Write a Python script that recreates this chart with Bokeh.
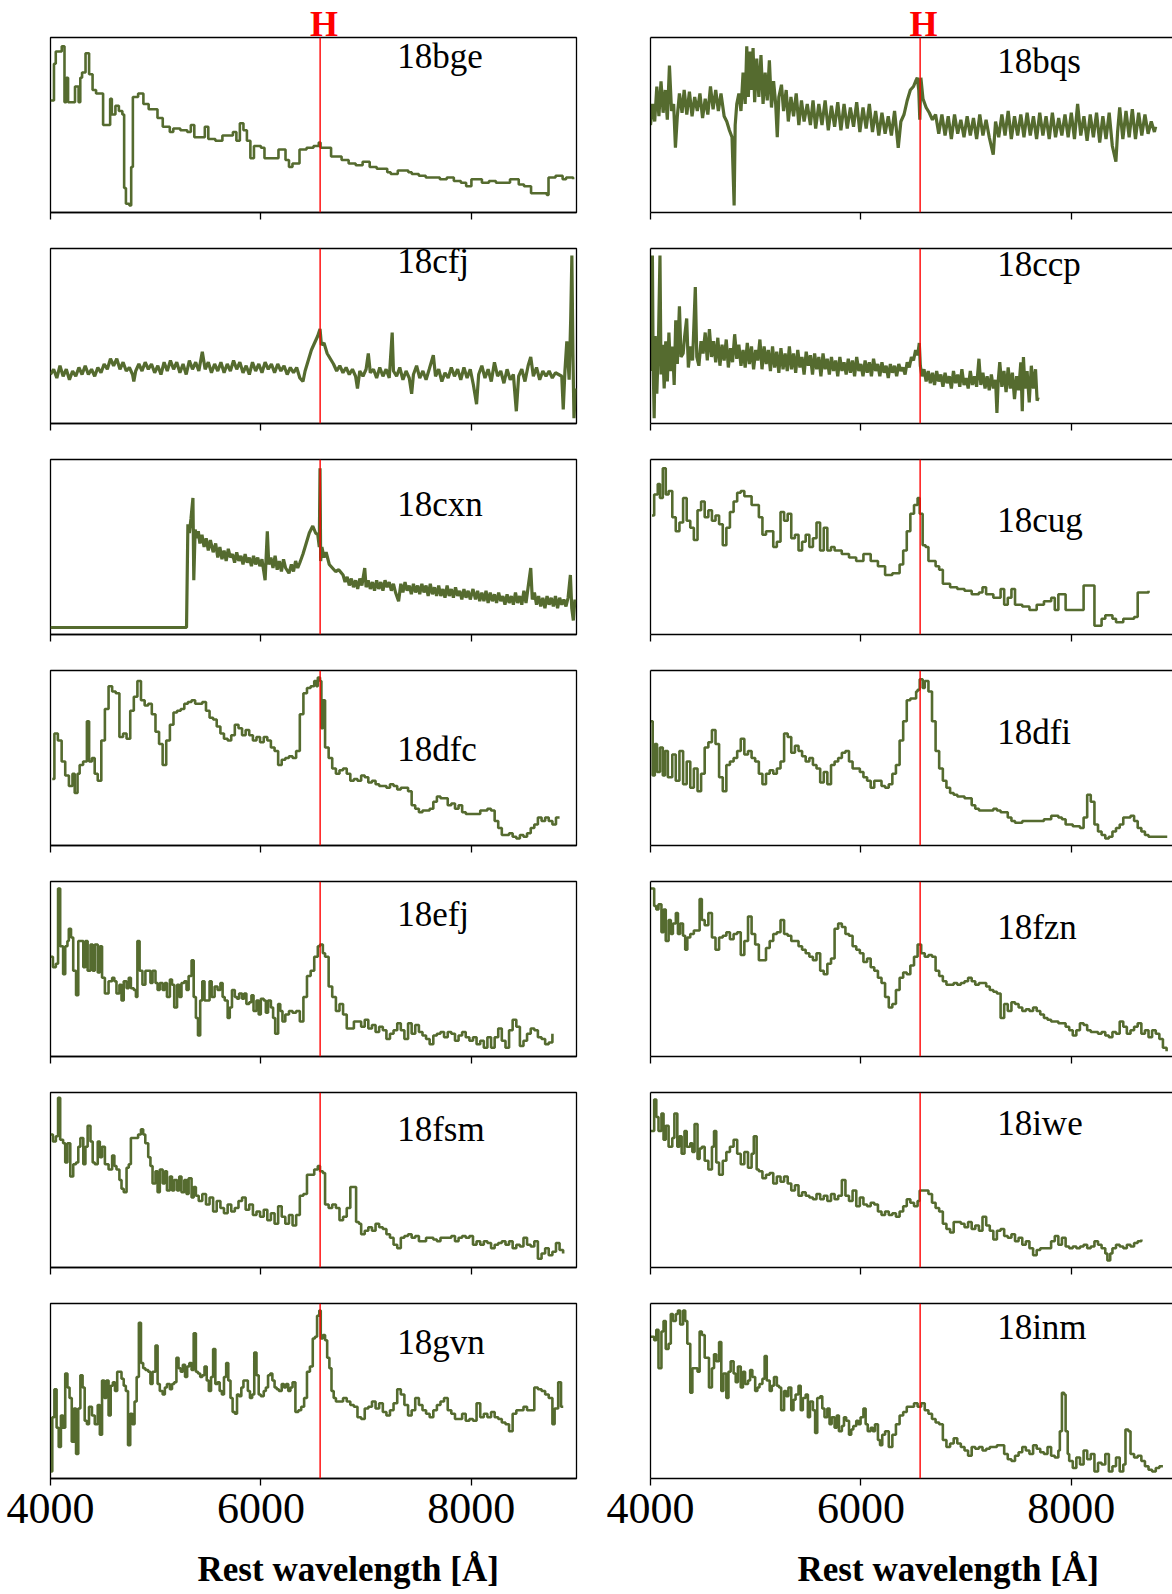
from bokeh.plotting import figure
from bokeh.layouts import column, row
from bokeh.models import Span, Label, Range1d, FixedTicker, LinearAxis
from bokeh.embed import file_html
from bokeh.resources import INLINE

# Spectra: (rest wavelength [A], normalised flux in % of panel height)
sn18bge = [(4000,64),(4033,85),(4050,92),(4107,95),(4133,63),(4150,77),(4167,63),(4217,63),(4233,72),(4267,63),
           (4283,77),(4300,80),(4333,91),(4367,79),(4400,70),(4433,68),(4483,68),(4500,50),(4533,50),(4567,65),
           (4583,56),(4617,61),(4650,58),(4683,56),(4700,14),(4717,5),(4750,4),(4767,26),(4783,66),(4833,68),
           (4867,68),(4883,62),(4933,59),(4984,59),(5017,54),(5067,49),(5134,46),(5167,48),(5234,47),(5300,46),
           (5334,50),(5367,43),(5467,49),(5500,42),(5567,41),(5634,44),(5734,46),(5767,41),(5800,51),(5834,47),
           (5867,41),(5900,31),(5934,38),(6000,37),(6034,31),(6100,31),(6167,36),(6234,30),(6267,26),(6300,28),
           (6367,36),(6434,37),(6500,38),(6550,40),(6567,37),(6667,32),(6767,30),(6834,28),(6901,27),(6967,29),
           (7034,26),(7101,25),(7201,23),(7234,22),(7301,24),(7401,23),(7434,22),(7501,21),(7567,20),(7701,19),
           (7767,20),(7834,18),(7901,17),(7951,15),(8001,19),(8101,17),(8168,18),(8234,17),(8368,19),(8418,19),
           (8451,16),(8501,15),(8568,11),(8718,10),(8734,20),(8801,21),(8868,19),(8901,20),(8968,19)]

sn18bqs = [(4000,50),(4020,62),(4040,52),(4060,72),(4080,55),(4100,75),(4120,57),(4140,70),(4160,53),(4180,84),
           (4200,58),(4220,62),(4237,37),(4255,55),(4275,68),(4300,57),(4320,70),(4345,56),(4370,69),(4395,55),
           (4420,66),(4445,58),(4470,68),(4495,54),(4520,65),(4545,56),(4570,72),(4595,59),(4620,70),(4645,58),
           (4670,68),(4700,55),(4725,52),(4750,47),(4775,43),(4795,4),(4805,50),(4820,62),(4840,68),(4860,58),
           (4880,80),(4900,62),(4915,95),(4930,66),(4945,92),(4960,70),(4975,94),(4990,63),(5010,88),(5030,66),
           (5050,90),(5070,62),(5090,80),(5110,64),(5130,87),(5150,60),(5170,75),(5190,62),(5205,43),(5220,66),
           (5245,73),(5265,58),(5290,70),(5310,52),(5335,66),(5360,55),(5385,68),(5410,50),(5435,64),(5460,52),
           (5490,62),(5520,50),(5545,64),(5570,48),(5600,62),(5630,50),(5660,64),(5690,47),(5720,61),(5750,49),
           (5780,63),(5810,47),(5840,62),(5870,48),(5900,60),(5930,49),(5960,63),(5990,46),(6020,60),(6050,48),
           (6080,62),(6110,46),(6140,58),(6170,44),(6200,57),(6230,45),(6260,55),(6290,44),(6320,58),(6355,37),
           (6380,52),(6410,56),(6440,64),(6470,70),(6500,72),(6520,75),(6536,77),(6550,70),(6560,53),(6570,77),
           (6590,65),(6620,60),(6650,57),(6680,53),(6710,56),(6740,45),(6770,56),(6800,44),(6830,55),(6860,42),
           (6890,56),(6920,45),(6950,53),(6980,43),(7010,55),(7040,44),(7070,54),(7100,42),(7130,56),(7160,44),
           (7190,53),(7220,43),(7258,33),(7280,52),(7310,43),(7340,56),(7370,44),(7400,58),(7430,42),(7460,55),
           (7490,44),(7520,56),(7550,43),(7580,57),(7610,44),(7640,55),(7670,42),(7700,57),(7730,44),(7760,55),
           (7790,42),(7820,57),(7850,43),(7880,54),(7910,44),(7940,56),(7970,43),(8000,57),(8030,42),(8060,62),
           (8090,44),(8120,55),(8150,41),(8180,56),(8210,43),(8240,57),(8270,40),(8300,55),(8330,42),(8360,57),
           (8390,38),(8424,29),(8440,46),(8460,60),(8490,42),(8520,58),(8550,43),(8580,59),(8610,42),(8640,57),
           (8670,44),(8700,56),(8730,45),(8760,52),(8790,46),(8802,49)]

sn18cfj = [(4000,28),(4030,31),(4060,26),(4090,33),(4120,27),(4150,31),(4180,25),(4210,30),(4240,27),(4270,32),
           (4300,28),(4330,33),(4360,28),(4390,31),(4420,27),(4450,32),(4480,29),(4510,34),(4540,31),(4570,37),
           (4600,33),(4630,37),(4660,31),(4690,35),(4720,30),(4750,32),(4780,28),(4792,24),(4810,30),(4840,34),
           (4870,30),(4900,35),(4930,31),(4960,34),(4990,29),(5020,33),(5050,28),(5080,35),(5110,30),(5140,36),
           (5170,31),(5200,35),(5230,29),(5260,34),(5290,28),(5320,36),(5350,31),(5380,35),(5410,30),(5443,41),
           (5470,31),(5500,35),(5530,29),(5560,34),(5590,30),(5620,35),(5650,29),(5680,34),(5710,30),(5740,36),
           (5770,31),(5800,35),(5830,29),(5860,33),(5890,28),(5920,35),(5950,30),(5980,34),(6010,29),(6040,35),
           (6070,31),(6100,34),(6130,29),(6160,34),(6190,30),(6220,33),(6250,28),(6280,32),(6310,29),(6340,32),
           (6370,26),(6400,24),(6420,30),(6450,36),(6480,42),(6510,46),(6540,50),(6562,54),(6575,45),(6600,46),
           (6630,40),(6660,37),(6690,34),(6720,30),(6750,33),(6780,29),(6810,32),(6840,28),(6870,31),(6900,27),
           (6918,20),(6940,30),(6970,27),(7000,31),(7021,40),(7040,29),(7070,31),(7100,26),(7130,32),(7160,27),
           (7190,31),(7220,26),(7248,52),(7260,30),(7290,27),(7320,32),(7350,25),(7380,30),(7410,26),(7433,17),
           (7450,28),(7480,33),(7510,26),(7540,30),(7570,25),(7600,31),(7639,39),(7660,27),(7690,31),(7720,24),
           (7750,29),(7780,26),(7810,32),(7840,27),(7870,31),(7900,25),(7930,32),(7960,26),(7990,31),(8020,22),
           (8050,11),(8070,28),(8100,33),(8130,26),(8160,31),(8190,24),(8220,35),(8250,27),(8280,30),(8310,23),
           (8340,31),(8370,25),(8400,28),(8428,7),(8450,27),(8480,31),(8510,24),(8540,33),(8565,38),(8590,27),
           (8620,32),(8650,25),(8680,30),(8710,27),(8740,30),(8770,26),(8800,29),(8830,28),(8860,27),(8874,8),
           (8890,30),(8908,47),(8930,25),(8945,60),(8956,96),(8966,40),(8976,3),(8990,20)]

sn18ccp = [(4000,53),(4010,30),(4018,96),(4025,35),(4035,3),(4045,50),(4060,17),(4075,45),(4090,96),(4100,28),
           (4115,45),(4130,20),(4145,47),(4160,24),(4175,52),(4190,30),(4210,44),(4225,22),(4240,59),(4255,34),
           (4275,67),(4290,38),(4310,40),(4325,50),(4344,60),(4360,32),(4380,44),(4400,36),(4426,78),(4440,38),
           (4460,33),(4480,47),(4500,40),(4520,52),(4540,36),(4560,54),(4580,38),(4600,47),(4620,35),(4640,49),
           (4660,33),(4680,45),(4700,36),(4720,48),(4740,32),(4760,43),(4780,35),(4800,51),(4820,37),(4840,45),
           (4860,33),(4880,42),(4900,32),(4920,46),(4940,34),(4960,44),(4980,31),(5000,42),(5020,36),(5040,48),
           (5060,31),(5080,44),(5100,34),(5120,42),(5140,30),(5160,44),(5180,32),(5200,41),(5220,29),(5240,43),
           (5260,31),(5280,40),(5300,30),(5320,44),(5340,31),(5360,40),(5380,29),(5400,42),(5420,32),(5440,38),
           (5460,28),(5480,41),(5500,33),(5520,39),(5540,28),(5560,40),(5580,31),(5600,38),(5620,27),(5640,40),
           (5660,31),(5680,37),(5700,28),(5720,38),(5740,30),(5760,36),(5780,27),(5800,38),(5820,30),(5840,35),
           (5860,28),(5880,37),(5900,29),(5920,36),(5940,27),(5960,38),(5980,30),(6000,34),(6020,27),(6040,36),
           (6060,29),(6080,35),(6100,27),(6120,37),(6140,30),(6160,34),(6180,27),(6200,35),(6220,29),(6240,33),
           (6260,26),(6280,34),(6300,29),(6320,33),(6340,27),(6360,34),(6380,30),(6400,32),(6420,28),(6440,35),
           (6460,32),(6480,38),(6500,36),(6520,42),(6540,39),(6555,46),(6565,33),(6580,27),(6600,31),(6620,24),
           (6640,30),(6660,23),(6680,29),(6700,22),(6720,30),(6740,24),(6760,28),(6780,21),(6800,29),(6820,23),
           (6840,27),(6860,20),(6880,30),(6900,23),(6920,28),(6940,21),(6960,31),(6980,22),(7000,26),(7020,20),
           (7040,30),(7060,22),(7080,27),(7100,21),(7122,37),(7140,22),(7160,29),(7180,20),(7200,27),(7220,19),
           (7240,28),(7260,20),(7280,25),(7293,6),(7305,24),(7320,35),(7340,21),(7360,30),(7380,18),(7400,32),
           (7420,20),(7440,29),(7460,14),(7480,27),(7500,19),(7520,35),(7534,7),(7545,38),(7560,20),(7580,30),
           (7600,12),(7620,33),(7640,20),(7660,31),(7675,13),(7685,15)]

sn18cxn = [(4000,4),(5293,4),(5306,63),(5320,58),(5335,66),(5354,78),(5362,31),(5375,60),(5390,55),(5405,59),
           (5420,52),(5440,57),(5460,50),(5480,55),(5500,48),(5520,54),(5546,47),(5570,52),(5590,44),(5610,50),
           (5630,43),(5650,48),(5670,42),(5690,49),(5710,44),(5730,46),(5750,41),(5770,47),(5790,42),(5810,45),
           (5830,40),(5850,46),(5870,41),(5890,44),(5910,39),(5930,45),(5950,40),(5970,44),(5990,39),(6010,43),
           (6040,31),(6061,59),(6075,40),(6095,44),(6115,38),(6135,45),(6155,37),(6175,42),(6195,36),(6215,43),
           (6235,38),(6267,35),(6290,40),(6310,36),(6330,42),(6350,38),(6370,41),(6400,46),(6430,52),(6460,58),
           (6493,62),(6520,58),(6541,57),(6555,50),(6562,95),(6568,42),(6580,50),(6600,44),(6620,47),(6650,40),
           (6680,38),(6710,36),(6740,37),(6781,34),(6800,30),(6820,33),(6840,28),(6860,32),(6880,27),(6900,31),
           (6920,26),(6940,32),(6960,28),(6987,38),(7000,27),(7020,31),(7040,26),(7060,30),(7080,25),(7100,31),
           (7120,26),(7140,30),(7160,25),(7180,31),(7200,27),(7220,30),(7240,25),(7260,29),(7280,24),(7309,19),
           (7330,29),(7350,24),(7370,30),(7390,25),(7410,28),(7430,23),(7450,29),(7470,24),(7490,28),(7510,23),
           (7530,29),(7550,24),(7570,28),(7590,22),(7610,29),(7630,23),(7650,27),(7670,22),(7690,28),(7710,22),
           (7730,26),(7750,21),(7770,28),(7790,22),(7810,26),(7830,21),(7850,27),(7870,22),(7890,25),(7910,20),
           (7930,26),(7950,21),(7970,25),(7990,20),(8016,26),(8040,20),(8060,25),(8080,19),(8100,24),(8120,19),
           (8140,25),(8160,18),(8180,24),(8200,19),(8220,23),(8240,18),(8260,24),(8280,19),(8300,22),(8320,17),
           (8340,23),(8360,18),(8380,22),(8400,17),(8420,24),(8440,18),(8460,22),(8480,17),(8500,25),(8520,18),
           (8540,27),(8565,38),(8580,20),(8600,24),(8620,17),(8640,22),(8660,16),(8680,21),(8700,15),(8720,22),
           (8740,17),(8760,21),(8780,16),(8800,22),(8820,15),(8840,21),(8860,17),(8880,20),(8900,16),(8920,21),
           (8942,34),(8955,15),(8970,8),(8985,20)]

sn18cug = [(4014,68),(4035,80),(4069,86),(4090,78),(4117,95),(4145,80),(4172,82),(4207,67),(4240,59),(4275,64),
           (4310,78),(4344,65),(4378,61),(4412,54),(4447,71),(4481,76),(4515,67),(4550,71),(4584,65),(4618,68),
           (4652,63),(4687,51),(4721,61),(4755,70),(4790,76),(4824,81),(4858,82),(4892,79),(4961,74),(5030,67),
           (5064,57),(5098,59),(5167,50),(5201,53),(5236,70),(5270,65),(5304,69),(5338,55),(5373,57),(5407,48),
           (5441,53),(5475,57),(5510,50),(5544,55),(5578,64),(5612,48),(5647,61),(5681,48),(5716,50),(5750,48),
           (5818,46),(5887,44),(5955,42),(6024,46),(6093,42),(6162,39),(6230,34),(6299,35),(6368,40),(6402,48),
           (6436,59),(6470,69),(6505,74),(6539,78),(6559,69),(6587,51),(6615,50),(6642,42),(6710,39),(6744,37),
           (6779,29),(6848,27),(6916,26),(6985,25),(7053,23),(7122,24),(7156,27),(7190,23),(7259,21),(7328,26),
           (7362,17),(7396,21),(7431,26),(7465,17),(7534,16),(7602,14),(7671,17),(7740,19),(7809,21),(7843,14),
           (7877,23),(7946,14),(8014,14),(8083,14),(8117,28),(8185,28),(8220,5),(8288,9),(8323,11),(8391,9),
           (8425,7),(8494,9),(8597,10),(8631,24),(8734,25)]

sn18dfc = [(4017,38),(4037,64),(4070,60),(4106,48),(4140,40),(4175,34),(4209,41),(4230,30),(4257,41),(4277,46),
           (4310,48),(4346,71),(4367,48),(4394,50),(4420,41),(4449,37),(4483,60),(4517,78),(4552,91),(4586,88),
           (4620,87),(4655,62),(4690,64),(4723,61),(4758,77),(4792,85),(4826,94),(4860,83),(4895,80),(4929,81),
           (4963,75),(4998,65),(5032,58),(5066,46),(5100,60),(5135,69),(5169,76),(5203,77),(5238,78),(5272,81),
           (5306,82),(5341,83),(5375,81),(5409,81),(5443,82),(5478,77),(5512,73),(5546,72),(5580,68),(5615,64),
           (5649,61),(5684,60),(5718,63),(5752,69),(5787,67),(5821,63),(5855,66),(5889,63),(5924,60),(5958,62),
           (5992,59),(6027,62),(6061,60),(6095,56),(6130,54),(6164,46),(6198,49),(6232,50),(6267,51),(6301,50),
           (6335,54),(6370,75),(6404,87),(6438,90),(6473,91),(6507,94),(6527,91),(6541,96),(6562,94),(6575,67),
           (6590,83),(6610,56),(6644,50),(6678,44),(6713,41),(6747,43),(6781,44),(6816,41),(6850,37),(6884,38),
           (6918,37),(6953,40),(6987,39),(7021,36),(7056,37),(7090,35),(7124,34),(7193,33),(7227,35),(7261,34),
           (7296,32),(7330,33),(7364,33),(7399,31),(7433,23),(7467,21),(7502,19),(7536,20),(7604,21),(7639,25),
           (7673,28),(7707,27),(7776,23),(7810,24),(7845,21),(7879,23),(7913,19),(7948,18),(8016,18),(8085,20),
           (8153,21),(8187,20),(8222,14),(8256,10),(8290,6),(8359,7),(8393,5),(8428,4),(8462,6),(8496,5),
           (8530,7),(8565,10),(8599,12),(8633,16),(8668,14),(8702,16),(8736,14),(8771,12),(8805,16),(8839,16)]

sn18dfi = [(4003,71),(4021,40),(4041,58),(4062,42),(4090,56),(4117,40),(4138,54),(4165,39),(4207,52),(4240,37),
           (4275,54),(4310,35),(4344,48),(4378,33),(4412,44),(4447,31),(4481,41),(4515,56),(4550,59),(4584,66),
           (4618,58),(4652,39),(4687,31),(4721,46),(4755,48),(4790,50),(4824,54),(4858,61),(4892,52),(4927,54),
           (4961,50),(4995,48),(5030,41),(5064,35),(5098,41),(5133,43),(5167,41),(5201,44),(5236,48),(5270,64),
           (5304,62),(5338,53),(5373,57),(5407,54),(5441,51),(5475,48),(5510,50),(5544,46),(5578,44),(5613,36),
           (5647,42),(5681,35),(5716,46),(5750,48),(5784,50),(5819,53),(5853,54),(5887,48),(5921,44),(5956,44),
           (5990,42),(6024,39),(6059,37),(6093,33),(6127,37),(6162,37),(6196,34),(6230,33),(6265,35),(6299,41),
           (6333,46),(6368,60),(6402,71),(6436,83),(6470,84),(6505,84),(6525,88),(6539,89),(6559,95),(6587,90),
           (6607,94),(6642,88),(6676,71),(6710,54),(6744,44),(6779,37),(6813,33),(6848,30),(6882,29),(6917,28),
           (6985,27),(7053,23),(7087,21),(7122,20),(7190,20),(7259,21),(7293,20),(7328,19),(7396,16),(7431,14),
           (7465,13),(7534,14),(7602,14),(7671,14),(7740,15),(7809,17),(7877,16),(7911,15),(7946,12),(8014,11),
           (8083,10),(8117,16),(8151,29),(8185,25),(8220,12),(8254,8),(8288,6),(8323,4),(8357,5),(8391,8),
           (8425,10),(8460,12),(8494,16),(8563,17),(8597,14),(8631,10),(8666,8),(8700,6),(8734,5),(8803,5),
           (8872,5),(8912,5)]

sn18efj = [(4003,57),(4023,51),(4051,53),(4072,96),(4092,63),(4120,47),(4140,63),(4161,66),(4174,73),(4195,68),
           (4216,49),(4243,35),(4264,66),(4291,66),(4312,51),(4332,66),(4353,49),(4380,64),(4401,49),(4421,64),
           (4449,48),(4469,63),(4490,45),(4517,36),(4552,43),(4586,45),(4607,43),(4627,36),(4655,41),(4675,32),
           (4696,43),(4723,39),(4744,45),(4764,39),(4792,38),(4812,34),(4826,66),(4847,49),(4874,41),(4902,49),
           (4929,49),(4950,42),(4970,49),(4998,42),(5018,38),(5039,42),(5066,38),(5087,42),(5107,34),(5135,44),
           (5155,41),(5176,28),(5203,41),(5224,34),(5245,42),(5272,43),(5293,38),(5313,46),(5341,55),(5361,34),
           (5382,22),(5402,12),(5423,32),(5443,43),(5464,32),(5491,32),(5512,43),(5532,34),(5560,40),(5588,38),
           (5615,42),(5636,34),(5656,32),(5684,22),(5704,28),(5725,38),(5752,34),(5773,33),(5793,36),(5821,33),
           (5841,36),(5862,30),(5889,31),(5910,35),(5930,26),(5958,32),(5979,24),(5999,33),(6027,32),(6047,25),
           (6068,32),(6095,28),(6116,22),(6136,13),(6164,30),(6184,26),(6205,20),(6232,24),(6267,26),(6301,25),
           (6335,26),(6370,20),(6404,34),(6438,46),(6473,49),(6507,57),(6541,63),(6562,64),(6589,59),(6610,57),
           (6644,40),(6678,34),(6713,26),(6747,30),(6781,24),(6816,16),(6850,16),(6884,20),(6918,20),(6953,17),
           (6987,21),(7021,16),(7056,18),(7090,14),(7124,17),(7159,15),(7193,10),(7227,13),(7261,15),(7296,19),
           (7330,15),(7364,10),(7399,19),(7433,13),(7467,18),(7502,14),(7536,12),(7570,10),(7604,7),(7639,12),
           (7673,13),(7707,14),(7741,11),(7776,14),(7810,13),(7845,9),(7879,12),(7913,14),(7947,11),(7982,9),
           (8016,11),(8050,7),(8085,9),(8119,5),(8153,11),(8188,5),(8222,11),(8256,16),(8290,9),(8325,5),
           (8359,15),(8393,21),(8428,17),(8462,6),(8496,9),(8530,13),(8565,16),(8599,15),(8633,11),(8668,10),
           (8702,7),(8736,8),(8771,13)]

sn18fzn = [(4003,96),(4035,86),(4055,84),(4076,87),(4104,71),(4124,84),(4145,66),(4172,78),(4193,70),(4213,76),
           (4241,82),(4261,70),(4282,76),(4309,69),(4330,61),(4350,68),(4378,70),(4412,72),(4447,72),(4467,90),
           (4488,78),(4515,75),(4550,82),(4584,68),(4618,61),(4652,68),(4687,69),(4721,71),(4755,67),(4790,70),
           (4824,71),(4858,58),(4892,66),(4927,80),(4961,70),(4995,64),(5030,55),(5064,55),(5098,62),(5133,66),
           (5167,70),(5201,71),(5236,78),(5270,70),(5304,69),(5338,66),(5373,66),(5407,63),(5441,61),(5475,59),
           (5510,57),(5544,55),(5578,59),(5613,49),(5647,47),(5681,53),(5716,56),(5750,73),(5784,76),(5819,74),
           (5853,70),(5887,69),(5921,63),(5956,61),(5990,59),(6024,54),(6059,56),(6093,51),(6127,49),(6162,45),
           (6196,42),(6230,34),(6265,28),(6299,30),(6333,38),(6368,45),(6402,48),(6436,47),(6470,52),(6505,57),
           (6539,64),(6573,59),(6607,57),(6642,58),(6676,57),(6710,49),(6744,46),(6779,43),(6813,41),(6848,41),
           (6882,42),(6916,41),(6950,42),(6985,43),(7019,45),(7053,43),(7087,41),(7122,42),(7156,42),(7191,40),
           (7225,38),(7259,37),(7293,36),(7328,22),(7362,30),(7396,26),(7431,31),(7465,30),(7499,28),(7534,26),
           (7568,27),(7602,26),(7637,28),(7671,26),(7705,24),(7740,22),(7774,21),(7808,20),(7843,20),(7877,19),
           (7911,19),(7946,17),(7980,15),(8014,12),(8048,15),(8082,19),(8117,18),(8151,15),(8185,14),(8220,14),
           (8254,13),(8288,14),(8323,12),(8357,11),(8391,14),(8425,13),(8460,20),(8494,17),(8528,13),(8563,15),
           (8597,17),(8631,19),(8666,13),(8700,15),(8734,11),(8768,15),(8803,13),(8837,10),(8871,5),(8906,3)]

sn18fsm = [(4003,76),(4023,72),(4051,75),(4072,97),(4092,73),(4120,71),(4140,60),(4161,71),(4188,52),(4216,59),
           (4243,60),(4264,69),(4284,74),(4312,59),(4332,69),(4353,81),(4380,72),(4401,60),(4421,59),(4449,72),
           (4469,63),(4490,69),(4517,59),(4552,56),(4586,64),(4607,58),(4627,56),(4655,50),(4675,45),(4696,43),
           (4723,57),(4744,59),(4764,74),(4792,74),(4812,74),(4833,76),(4860,79),(4881,76),(4901,71),(4929,63),
           (4950,58),(4970,48),(4998,55),(5018,43),(5039,56),(5066,48),(5087,55),(5107,44),(5135,52),(5155,44),
           (5176,50),(5203,44),(5224,52),(5245,43),(5272,50),(5293,42),(5313,51),(5341,40),(5361,46),(5382,41),
           (5409,38),(5443,42),(5478,36),(5512,40),(5546,32),(5580,38),(5615,34),(5649,31),(5684,36),(5718,32),
           (5752,34),(5787,38),(5821,40),(5855,33),(5889,36),(5924,30),(5958,32),(5992,29),(6027,33),(6061,27),
           (6095,31),(6130,25),(6164,35),(6198,29),(6232,25),(6267,30),(6301,24),(6335,30),(6370,41),(6404,42),
           (6438,53),(6473,53),(6507,56),(6541,58),(6562,55),(6589,54),(6610,36),(6644,34),(6678,36),(6713,34),
           (6747,27),(6781,29),(6816,34),(6850,46),(6884,46),(6905,26),(6932,25),(6953,19),(6987,21),(7021,23),
           (7056,21),(7090,25),(7124,23),(7159,22),(7193,19),(7227,17),(7261,13),(7296,11),(7330,17),(7364,18),
           (7399,19),(7433,17),(7467,18),(7502,15),(7536,15),(7570,17),(7604,17),(7639,16),(7673,15),(7707,17),
           (7741,17),(7776,17),(7810,18),(7845,15),(7879,17),(7913,18),(7947,17),(7982,18),(8016,13),(8050,15),
           (8085,13),(8119,15),(8153,14),(8188,11),(8222,13),(8256,14),(8290,15),(8325,13),(8359,15),(8393,11),
           (8428,13),(8462,12),(8496,17),(8530,13),(8565,12),(8599,15),(8633,5),(8668,8),(8702,11),(8736,7),
           (8771,9),(8805,14),(8839,10),(8873,8)]

sn18iwe = [(4003,78),(4035,96),(4055,86),(4076,78),(4104,88),(4124,73),(4145,81),(4172,69),(4207,74),(4227,88),
           (4255,69),(4275,75),(4296,65),(4323,78),(4344,69),(4378,71),(4398,66),(4419,82),(4447,62),(4467,68),
           (4488,69),(4515,61),(4550,56),(4584,69),(4604,78),(4625,60),(4652,53),(4687,61),(4721,66),(4755,69),
           (4790,73),(4824,65),(4858,59),(4892,66),(4927,57),(4961,65),(4982,75),(5009,56),(5030,55),(5064,51),
           (5098,53),(5133,54),(5167,48),(5201,52),(5236,49),(5270,52),(5304,48),(5338,44),(5373,47),(5407,41),
           (5441,43),(5475,41),(5510,40),(5544,39),(5578,42),(5613,39),(5647,41),(5681,38),(5716,42),(5750,39),
           (5784,41),(5819,50),(5853,41),(5887,38),(5921,44),(5956,35),(5990,40),(6024,36),(6059,35),(6093,37),
           (6127,36),(6162,32),(6196,30),(6230,32),(6265,30),(6299,31),(6333,29),(6368,32),(6402,35),(6436,39),
           (6470,37),(6505,35),(6539,38),(6559,44),(6607,44),(6642,42),(6676,37),(6710,34),(6744,32),(6779,25),
           (6813,22),(6848,20),(6882,26),(6916,26),(6950,25),(6985,23),(7019,26),(7053,22),(7087,24),(7122,21),
           (7156,29),(7191,24),(7225,21),(7259,16),(7293,21),(7328,22),(7362,18),(7396,17),(7431,19),(7465,15),
           (7499,17),(7534,13),(7568,15),(7602,11),(7637,7),(7671,10),(7705,11),(7740,11),(7774,11),(7808,15),
           (7843,18),(7877,13),(7911,17),(7946,12),(7980,11),(8014,12),(8048,11),(8083,12),(8117,13),(8151,11),
           (8185,12),(8220,15),(8254,13),(8288,11),(8323,8),(8343,4),(8370,8),(8391,11),(8425,13),(8460,12),
           (8494,11),(8528,13),(8563,12),(8597,14),(8631,15),(8666,16)]

sn18gvn = [(4003,4),(4017,35),(4037,51),(4058,29),(4078,18),(4099,36),(4120,29),(4140,60),(4161,52),(4181,46),
           (4202,21),(4222,40),(4243,14),(4264,40),(4284,59),(4305,52),(4325,33),(4346,31),(4366,41),(4394,36),
           (4421,31),(4449,42),(4469,25),(4490,56),(4511,46),(4531,56),(4552,36),(4572,53),(4593,55),(4613,50),
           (4634,61),(4655,61),(4675,57),(4696,53),(4716,50),(4737,19),(4758,37),(4778,31),(4799,44),(4819,58),
           (4840,89),(4860,66),(4881,63),(4902,62),(4929,61),(4950,54),(4970,61),(4998,76),(5018,54),(5039,50),
           (5066,48),(5087,52),(5107,54),(5135,51),(5155,54),(5176,55),(5197,69),(5217,63),(5238,61),(5258,65),
           (5279,58),(5299,64),(5320,66),(5341,62),(5361,83),(5382,61),(5402,60),(5423,58),(5443,59),(5464,64),
           (5485,56),(5505,50),(5526,58),(5546,74),(5567,54),(5588,55),(5608,50),(5629,48),(5649,58),(5670,66),
           (5690,56),(5711,46),(5731,38),(5752,37),(5773,48),(5793,47),(5814,52),(5834,56),(5855,56),(5876,50),
           (5896,46),(5917,48),(5937,72),(5958,59),(5979,48),(5999,47),(6027,50),(6047,52),(6068,59),(6089,60),
           (6109,56),(6130,52),(6150,51),(6171,50),(6198,54),(6219,52),(6239,54),(6260,50),(6281,52),(6301,55),
           (6328,38),(6356,39),(6383,41),(6411,46),(6438,61),(6466,64),(6493,80),(6514,81),(6534,93),(6555,96),
           (6569,80),(6589,82),(6610,79),(6630,69),(6651,63),(6671,50),(6692,46),(6713,44),(6747,44),(6781,46),
           (6816,44),(6850,42),(6884,41),(6918,35),(6953,34),(6987,40),(7021,41),(7056,44),(7090,40),(7124,43),
           (7159,38),(7193,36),(7227,39),(7261,43),(7296,51),(7330,48),(7364,42),(7399,36),(7433,39),(7467,46),
           (7502,42),(7536,39),(7570,37),(7604,35),(7639,39),(7673,42),(7707,44),(7741,46),(7776,39),(7810,37),
           (7845,34),(7879,34),(7913,37),(7947,33),(7982,34),(8016,33),(8050,43),(8085,35),(8119,37),(8153,35),
           (8188,38),(8222,35),(8256,34),(8290,32),(8325,31),(8359,27),(8393,37),(8428,39),(8462,39),(8496,41),
           (8530,39),(8565,39),(8599,52),(8633,51),(8668,50),(8702,48),(8736,46),(8771,31),(8792,40),(8826,55),
           (8853,41),(8874,41)]

sn18inm = [(4003,81),(4035,79),(4055,85),(4076,63),(4104,84),(4124,90),(4145,74),(4172,77),(4193,94),(4213,90),
           (4241,94),(4261,96),(4282,88),(4310,96),(4330,90),(4350,77),(4378,49),(4398,63),(4419,63),(4447,61),
           (4467,84),(4488,82),(4515,69),(4536,69),(4556,52),(4584,63),(4604,71),(4625,67),(4652,78),(4673,50),
           (4693,60),(4721,46),(4741,61),(4762,67),(4790,60),(4810,55),(4831,64),(4858,52),(4879,61),(4899,54),
           (4927,56),(4947,62),(4968,58),(4995,50),(5016,52),(5036,54),(5064,57),(5085,70),(5105,56),(5133,50),
           (5153,53),(5174,58),(5201,53),(5222,52),(5242,39),(5270,50),(5290,47),(5311,52),(5338,39),(5359,45),
           (5379,48),(5407,53),(5428,39),(5448,46),(5475,48),(5496,35),(5516,44),(5544,39),(5565,26),(5585,46),
           (5613,47),(5633,40),(5654,35),(5681,40),(5702,31),(5722,35),(5750,29),(5771,36),(5791,27),(5819,30),
           (5839,35),(5860,33),(5887,25),(5908,28),(5928,30),(5956,33),(5976,31),(5997,35),(6024,40),(6045,31),
           (6065,27),(6093,29),(6113,27),(6134,31),(6162,22),(6182,19),(6203,25),(6230,27),(6265,18),(6299,25),
           (6333,31),(6368,36),(6402,38),(6436,41),(6470,41),(6505,43),(6539,41),(6573,43),(6607,39),(6642,37),
           (6676,34),(6710,32),(6744,31),(6779,22),(6813,18),(6848,20),(6882,23),(6916,20),(6950,18),(6985,16),
           (7019,13),(7053,18),(7087,17),(7122,18),(7156,16),(7191,17),(7225,18),(7259,18),(7293,19),(7328,19),
           (7362,14),(7396,11),(7431,10),(7465,13),(7499,15),(7534,18),(7568,16),(7602,14),(7637,19),(7671,17),
           (7705,15),(7740,14),(7774,18),(7808,13),(7843,12),(7877,16),(7891,27),(7911,49),(7932,48),(7946,27),
           (7966,14),(7980,10),(8014,6),(8048,12),(8083,8),(8117,16),(8151,11),(8185,14),(8220,4),(8254,9),
           (8288,8),(8323,14),(8357,4),(8391,7),(8425,12),(8460,4),(8494,8),(8515,28),(8542,27),(8563,14),
           (8597,12),(8631,13),(8666,10),(8700,7),(8734,5),(8768,4),(8803,6),(8837,7),(8871,7)]

left_names = ["18bge", "18cfj", "18cxn", "18dfc", "18efj", "18fsm", "18gvn"]
right_names = ["18bqs", "18ccp", "18cug", "18dfi", "18fzn", "18iwe", "18inm"]
left_spectra = [sn18bge, sn18cfj, sn18cxn, sn18dfc, sn18efj, sn18fsm, sn18gvn]
right_spectra = [sn18bqs, sn18ccp, sn18cug, sn18dfi, sn18fzn, sn18iwe, sn18inm]

H_ALPHA = 6563.0
x_ticks = [4000, 6000, 8000]
x_title = "Rest wavelength [Å]"
line_title = "H"
# where the line name sits on the top axis of each column
line_title_x = [6600, 6594]

# high-resolution (noisy) spectra are drawn as plain polylines, the rest as steps
noisy = {"18bqs", "18cfj", "18ccp", "18cxn"}

# layout (pixels): distance from a panel's top edge to the name's anchor
left_name_drop = [19, 13, 45, 79, 33, 37, 39]
right_name_drop = [24, 16, 61, 62, 46, 31, 24]

SPEC_COLOR = "#556b2f"
SERIF = "Liberation Serif"
FRAME_H = 175
FOOT_H = 44
PX_PER_A = 526 / 5000.0


def frac_to_y(px_from_top):
    return 100.0 * (1.0 - px_from_top / FRAME_H)


def col_geometry(col):
    right = col == 1
    fw = 522 if right else 526
    return fw, 4000 + fw / PX_PER_A, (0 if right else 24)


def strip(col, height, label):
    """A bare text strip that shares the x scale of the panels above it."""
    fw, x_end, mbr = col_geometry(col)
    p = figure(frame_width=fw, frame_height=height,
               x_range=Range1d(4000, x_end), y_range=Range1d(0, height),
               output_backend="svg", toolbar_location=None,
               min_border_left=50, min_border_right=mbr,
               min_border_top=0, min_border_bottom=0)
    p.axis.visible = False
    p.grid.visible = False
    p.outline_line_color = None
    p.background_fill_color = "white"
    p.border_fill_color = "white"
    p.add_layout(label)
    return p


def no_labels(axis):
    axis.major_label_overrides = {t: "" for t in x_ticks}
    axis.major_label_text_font_size = "1px"
    axis.major_label_standoff = 0


def top_axis(col, r):
    """Top edge of a panel; on the first row it also carries the red line name."""
    ax = LinearAxis(major_tick_line_color=None, minor_tick_line_color=None,
                    axis_line_color="black" if col == 1 else None, axis_line_width=1.3)
    if r == 0:
        tx = line_title_x[col]
        ax.ticker = FixedTicker(ticks=[tx])
        ax.major_label_overrides = {tx: line_title}
        ax.major_label_text_font = SERIF
        ax.major_label_text_font_size = "36px"
        ax.major_label_text_font_style = "bold"
        ax.major_label_text_color = "red"
        ax.major_label_standoff = -6
        ax.major_tick_out = 0
        ax.major_tick_in = 0
    else:
        ax.ticker = FixedTicker(ticks=[])
        ax.major_label_standoff = 0
    return ax


def panel(name, spec, col, r, name_drop):
    right = col == 1
    fw, x_end, mbr = col_geometry(col)
    last = r == 6
    p = figure(frame_width=fw, frame_height=FRAME_H,
               x_range=Range1d(4000, x_end), y_range=Range1d(0, 100),
               output_backend="svg", toolbar_location=None,
               min_border_left=50, min_border_right=mbr,
               min_border_top=37 if r == 0 else 18,
               min_border_bottom=72 if last else 18)
    p.grid.visible = False
    p.background_fill_color = "white"
    p.border_fill_color = "white"

    # bottom axis with outward ticks at 4000/6000/8000
    ax = p.xaxis[0]
    ax.ticker = FixedTicker(ticks=x_ticks)
    ax.major_tick_out = 7
    ax.major_tick_in = 0
    ax.minor_tick_line_color = None
    ax.major_tick_line_color = "black"
    ax.major_tick_line_width = 1.3
    ax.axis_line_color = "black"
    ax.axis_line_width = 1.3
    if last:
        ax.major_label_text_font = SERIF
        ax.major_label_text_font_size = "44px"
        ax.major_label_text_color = "black"
        ax.major_label_standoff = 8
    else:
        no_labels(ax)

    if right:
        # three-sided box: left and top edges drawn as bare axes
        p.outline_line_color = None
        ya = p.yaxis[0]
        ya.ticker = FixedTicker(ticks=[])
        ya.major_tick_line_color = None
        ya.minor_tick_line_color = None
        ya.major_label_standoff = 0
        ya.axis_line_color = "black"
        ya.axis_line_width = 1.3
        p.add_layout(top_axis(col, r), "above")
    else:
        p.yaxis.visible = False
        p.outline_line_color = "black"
        p.outline_line_width = 1.3
        p.outline_line_alpha = 1.0
        if r == 0:
            p.add_layout(top_axis(col, r), "above")

    xs = [w for w, _ in spec]
    ys = [f for _, f in spec]
    if name in noisy:
        p.line(xs, ys, line_color=SPEC_COLOR, line_width=3.2)
    else:
        p.step(xs, ys, mode="after", line_color=SPEC_COLOR, line_width=2.6)

    p.add_layout(Span(location=H_ALPHA, dimension="height", line_color="red", line_width=1.4))

    p.add_layout(Label(x=7295, y=frac_to_y(name_drop), text=name,
                       text_font=SERIF, text_font_size="35px", text_color="black",
                       text_align="left", text_baseline="alphabetic"))
    return p


def axis_title():
    return Label(x=6830, y=25, text=x_title, text_font=SERIF, text_font_size="35px",
                 text_font_style="bold", text_color="black",
                 text_align="center", text_baseline="alphabetic")


rows = []
for r in range(7):
    pl = panel(left_names[r], left_spectra[r], 0, r, left_name_drop[r])
    pr = panel(right_names[r], right_spectra[r], 1, r, right_name_drop[r])
    rows.append(row(pl, pr, spacing=0))

# footer: x-axis titles
rows.append(row(strip(0, FOOT_H, axis_title()), strip(1, FOOT_H, axis_title()), spacing=0))

layout = column(*rows, spacing=0)

open("out.html", "w").write(file_html(layout, INLINE))
